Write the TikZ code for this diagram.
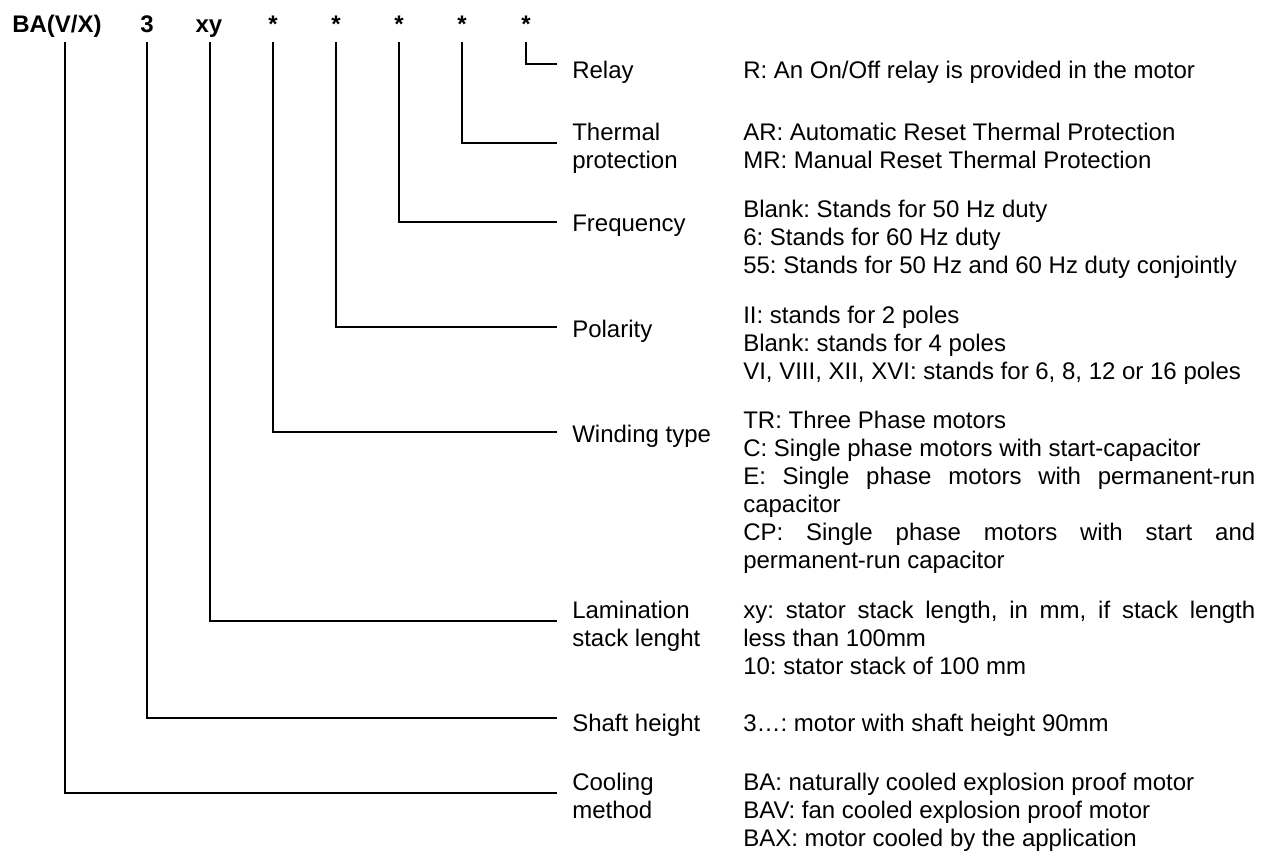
\documentclass[tikz,border=0pt]{standalone}
\usepackage{fontspec}
\setmainfont{Liberation Sans}
\frenchspacing
\newlength{\dw}
\setlength{\dw}{384pt}
\newcommand{\jl}[1]{\hbox to \dw{#1}}
\begin{document}
\begin{tikzpicture}[x=0.75pt,y=-0.75pt,
  code/.style={font=\bfseries\fontsize{18}{21}\selectfont, inner sep=0, anchor=base},
  lbl/.style={font=\fontsize{18}{21}\selectfont, inner sep=0, anchor=base west},
  desc/.style={font=\fontsize{18}{21}\selectfont, inner sep=0, anchor=base west},
  conn/.style={line width=1.5pt, line cap=rect}]
\useasboundingbox (0,0) rectangle (1267,861);

% code row
\node[code, anchor=base west] (cBA) at (12,32) {BA(V/X)};
\node[code] (c3) at (147,32) {3};
\node[code] (cxy) at (209,32) {xy};
\node[code] (cW) at (273,32) {*};
\node[code] (cP) at (336,32) {*};
\node[code] (cF) at (399,32) {*};
\node[code] (cT) at (462,32) {*};
\node[code] (cR) at (526,32) {*};

% connector starts
\coordinate (tBA) at (65,43);
\coordinate (t3) at (147,43);
\coordinate (txy) at (210,43);
\coordinate (tW) at (273,43);
\coordinate (tP) at (336,43);
\coordinate (tF) at (399,43);
\coordinate (tT) at (462,43);
\coordinate (tR) at (526,43);

% connector ends
\coordinate (eR) at (556,64);
\coordinate (eT) at (556,143);
\coordinate (eF) at (556,222);
\coordinate (eP) at (556,327);
\coordinate (eW) at (556,432);
\coordinate (exy) at (556,621);
\coordinate (e3) at (556,718);
\coordinate (eBA) at (556,793);

\draw[conn] (tR) |- (eR);
\draw[conn] (tT) |- (eT);
\draw[conn] (tF) |- (eF);
\draw[conn] (tP) |- (eP);
\draw[conn] (tW) |- (eW);
\draw[conn] (txy) |- (exy);
\draw[conn] (t3) |- (e3);
\draw[conn] (tBA) |- (eBA);

% labels
\node[lbl] (lR) at (572,78) {Relay};
\node[lbl] (lT) at (572,140) {\vtop{\hbox{Thermal}\hbox{protection}}};
\node[lbl] (lF) at (572,231) {Frequency};
\node[lbl] (lP) at (572,337) {Polarity};
\node[lbl] (lW) at (572,442) {Winding type};
\node[lbl] (lxy) at (572,618) {\vtop{\hbox{Lamination}\hbox{stack lenght}}};
\node[lbl] (l3) at (572,731) {Shaft height};
\node[lbl] (lBA) at (572,790) {\vtop{\hbox{Cooling}\hbox{method}}};

% descriptions
\node[desc] (dR) at (743,78) {R: An On/Off relay is provided in the motor};
\node[desc] (dT) at (743,140) {\vtop{\hbox{AR: Automatic Reset Thermal Protection}\hbox{MR: Manual Reset Thermal Protection}}};
\node[desc] (dF) at (743,217) {\vtop{\hbox{Blank: Stands for 50 Hz duty}\hbox{6: Stands for 60 Hz duty}\hbox{55: Stands for 50 Hz and 60 Hz duty conjointly}}};
\node[desc] (dP) at (743,323) {\vtop{\hbox{II: stands for 2 poles}\hbox{Blank: stands for 4 poles}\hbox{VI, VIII, XII, XVI: stands for 6, 8, 12 or 16 poles}}};
\node[desc] (dW) at (743,428) {\vtop{\hbox{TR: Three Phase motors}\hbox{C: Single phase motors with start-capacitor}\jl{E: Single phase motors with permanent-run}\hbox{capacitor}\jl{CP: Single phase motors with start and}\hbox{permanent-run capacitor}}};
\node[desc] (dxy) at (743,618) {\vtop{\jl{xy: stator stack length, in mm, if stack length}\hbox{less than 100mm}\hbox{10: stator stack of 100 mm}}};
\node[desc] (d3) at (743,731) {3…: motor with shaft height 90mm};
\node[desc] (dBA) at (743,790) {\vtop{\hbox{BA: naturally cooled explosion proof motor}\hbox{BAV: fan cooled explosion proof motor}\hbox{BAX: motor cooled by the application}}};
\end{tikzpicture}
\end{document}
